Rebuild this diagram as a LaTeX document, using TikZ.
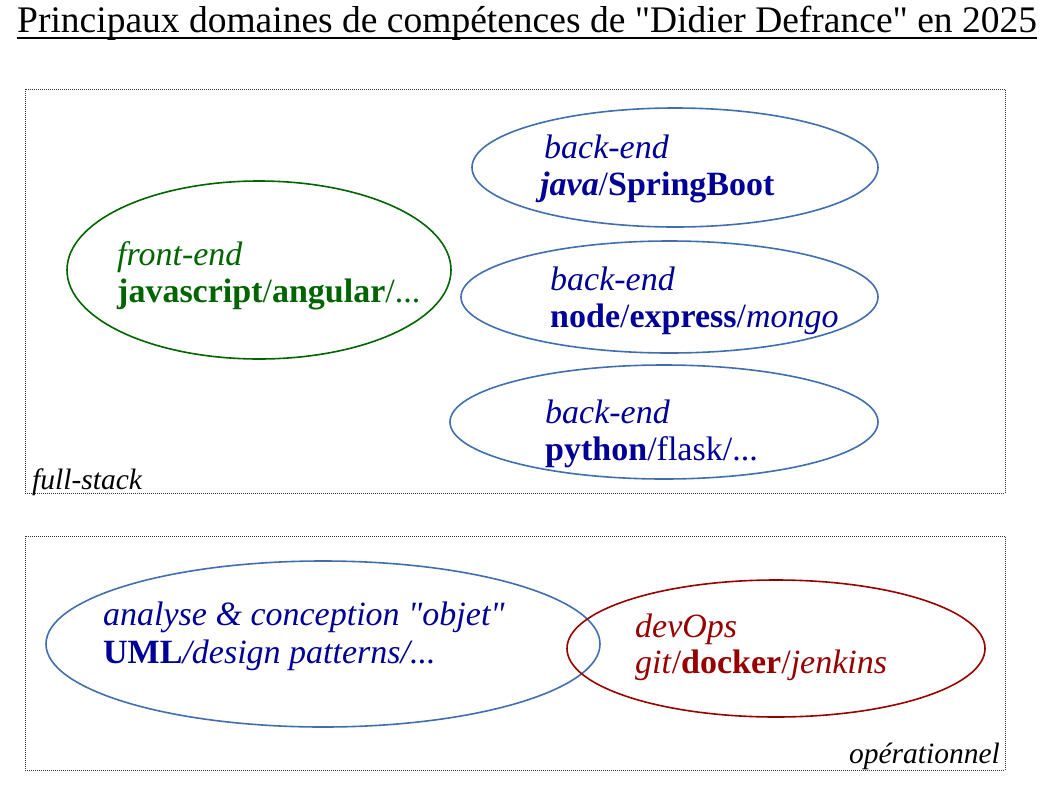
\documentclass[tikz,border=0pt]{standalone}
\usepackage{fontspec}
\setmainfont{Liberation Serif}
\usetikzlibrary{shapes.geometric,calc}
\definecolor{tblue}{RGB}{0,0,150}
\definecolor{tgreen}{RGB}{0,100,0}
\definecolor{tred}{RGB}{150,0,0}
\definecolor{eblue}{RGB}{65,110,175}
\tikzset{
  elli/.style={ellipse, draw, line width=1.6pt, inner sep=0pt},
  txt/.style={anchor=base west, inner sep=0pt, font=\fontsize{34}{40}\selectfont},
  lab/.style={inner sep=0pt, font=\fontsize{29.5}{34}\selectfont\itshape},
  dotbox/.style={draw, line width=0.9pt, dash pattern=on 1pt off 1pt, black!80}
}
\begin{document}
\begin{tikzpicture}[x=1pt,y=-1pt]
\useasboundingbox (0,0) rectangle (1045,788);
% title
\node[anchor=base west, inner sep=0pt, font=\fontsize{37.5}{44}\selectfont] (title) at (17,32) {Principaux domaines de compétences de \textquotedbl Didier Defrance\textquotedbl{} en 2025};
\draw[line width=1.8pt] ($(title.base west)+(0,6)$) -- ($(title.base east)+(0,6)$);
% boxes
\node[dotbox, minimum width=980pt, minimum height=404pt, inner sep=0pt] (fs) at (515,291) {};
\node[dotbox, minimum width=980pt, minimum height=234pt, inner sep=0pt] (op) at (515,653) {};
\node[lab, anchor=base west] (fslab) at (32,489) {full-stack};
\node[lab, anchor=base east] (oplab) at (1000,763) {opérationnel};
% ellipses
\node[elli, draw=tgreen, minimum width=384pt, minimum height=178pt] (fe) at (259,270) {};
\node[elli, draw=eblue, minimum width=406pt, minimum height=119pt] (be1) at (675,167.5) {};
\node[elli, draw=eblue, minimum width=417pt, minimum height=112pt] (be2) at (669.5,297) {};
\node[elli, draw=eblue, minimum width=428pt, minimum height=114pt] (be3) at (664,422) {};
\node[elli, draw=eblue, minimum width=554pt, minimum height=166pt] (uml) at (323,644) {};
\node[elli, draw=tred, minimum width=418pt, minimum height=137pt] (dev) at (776,648.5) {};
% texts
\node[txt, text=tgreen] (fe1) at (117,265) {\itshape front-end};
\node[txt, text=tgreen] (fe2) at (117,302) {\textbf{javascript}/\textbf{angular}/...};
\node[txt, text=tblue] (b11) at (544,158) {\itshape back-end};
\node[txt, text=tblue] (b12) at (540,195) {\textbf{\textit{java}}/\textbf{SpringBoot}};
\node[txt, text=tblue] (b21) at (550,290) {\itshape back-end};
\node[txt, text=tblue] (b22) at (550,327) {\textbf{node}/\textbf{express}/\textit{mongo}};
\node[txt, text=tblue] (b31) at (545,423) {\itshape back-end};
\node[txt, text=tblue] (b32) at (545,460) {\textbf{python}/flask/...};
\node[txt, text=tblue] (u1) at (103,625) {\itshape analyse \& conception \textquotedbl objet\textquotedbl};
\node[txt, text=tblue] (u2) at (103,663) {\textbf{UML}\textit{/design patterns/...}};
\node[txt, text=tred] (d1) at (635,637) {\itshape devOps};
\node[txt, text=tred] (d2) at (635,673) {\textit{git}/\textbf{docker}/\textit{jenkins}};
\end{tikzpicture}
\end{document}
